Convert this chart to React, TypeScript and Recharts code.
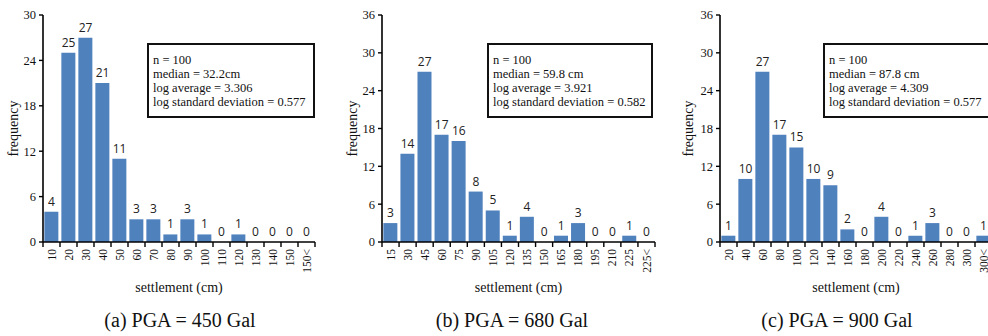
import React from "react";
import { Bar, ComposedChart, LabelList, Line, XAxis, YAxis } from "recharts";

const BAR_COLOR = "#4f81bd";
const SERIF = "'Liberation Serif', 'Times New Roman', serif";
const SANS = "'Open Sans', 'Liberation Sans', sans-serif";

// (a) PGA = 450 Gal
const binsA = ["10", "20", "30", "40", "50", "60", "70", "80", "90", "100", "110", "120", "130", "140", "150", "150<"];
const countsA = [4, 25, 27, 21, 11, 3, 3, 1, 3, 1, 0, 1, 0, 0, 0, 0];
const statsA = ["n = 100", "median = 32.2cm", "log average = 3.306", "log standard deviation = 0.577"];

// (b) PGA = 680 Gal
const binsB = ["15", "30", "45", "60", "75", "90", "105", "120", "135", "150", "165", "180", "195", "210", "225", "225<"];
const countsB = [3, 14, 27, 17, 16, 8, 5, 1, 4, 0, 1, 3, 0, 0, 1, 0];
const statsB = ["n = 100", "median = 59.8 cm", "log average = 3.921", "log standard deviation = 0.582"];

// (c) PGA = 900 Gal
const binsC = ["20", "40", "60", "80", "100", "120", "140", "160", "180", "200", "220", "240", "260", "280", "300", "300<"];
const countsC = [1, 10, 27, 17, 15, 10, 9, 2, 0, 4, 0, 1, 3, 0, 0, 1];
const statsC = ["n = 100", "median = 87.8 cm", "log average = 4.309", "log standard deviation = 0.577"];

const ticks30 = [0, 6, 12, 18, 24, 30];
const ticks36 = [0, 6, 12, 18, 24, 30, 36];

const CHART_H = 336;
const TOP = 15;
const PLOT_H = 227;
const X_AXIS_H = 79;

type PanelProps = {
  bins: string[];
  counts: number[];
  stats: string[];
  caption: string;
  yTicks: number[];
  left: number;
  width: number;
  yAxisWidth: number;
  rightMargin: number;
  yLabelX: number;
  box: { left: number; width: number };
  captionCenter: number;
};

const serifText = { fontFamily: SERIF, fill: "#111" };

// category ticks sit between the bins, label stays centred on the bar
const BinTick = (props: any) => {
  const { x, y, payload, half, last } = props;
  return (
    <g>
      <line x1={x - half} x2={x - half} y1={y} y2={y + 5} stroke="#000" strokeWidth={1.4} />
      {last && <line x1={x + half} x2={x + half} y1={y} y2={y + 5} stroke="#000" strokeWidth={1.4} />}
      <text
        transform={`translate(${x},${y + 7}) rotate(-90)`}
        textAnchor="end"
        dy="0.35em"
        style={{ ...serifText, fontSize: 11.5 }}
      >
        {payload.value}
      </text>
    </g>
  );
};

const CountTick = (props: any) => {
  const { x, y, payload } = props;
  return (
    <text x={x} y={y} dy="0.35em" textAnchor="end" style={{ ...serifText, fontSize: 12.5 }}>
      {payload.value}
    </text>
  );
};

const Panel = (p: PanelProps) => {
  const data = p.bins.map((bin, i) => ({ bin, count: p.counts[i] }));
  const plotLeft = p.yAxisWidth;
  const plotWidth = p.width - p.yAxisWidth - p.rightMargin;
  const half = plotWidth / p.bins.length / 2;
  const yMax = p.yTicks[p.yTicks.length - 1];

  return (
    <div style={{ position: "absolute", left: p.left, top: 0, width: p.width, height: CHART_H }}>
      <ComposedChart
        width={p.width}
        height={CHART_H}
        data={data}
        margin={{ top: TOP, right: p.rightMargin, bottom: CHART_H - TOP - PLOT_H - X_AXIS_H, left: 0 }}
        barCategoryGap="8%"
      >
        <XAxis
          dataKey="bin"
          interval={0}
          height={X_AXIS_H}
          tickLine={false}
          tickSize={0}
          tickMargin={0}
          axisLine={{ stroke: "#000", strokeWidth: 1.6 }}
          tick={(t: any) => <BinTick {...t} half={half} last={t.index === p.bins.length - 1} />}
          label={{
            content: () => (
              <text
                x={plotLeft + plotWidth / 2}
                y={292}
                textAnchor="middle"
                style={{ ...serifText, fontSize: 14 }}
              >
                settlement (cm)
              </text>
            ),
          }}
        />
        <YAxis
          width={p.yAxisWidth}
          domain={[0, yMax]}
          ticks={p.yTicks}
          interval={0}
          tickSize={4}
          tickMargin={3}
          tickLine={{ stroke: "#000", strokeWidth: 1.4 }}
          axisLine={{ stroke: "#000", strokeWidth: 1.6 }}
          tick={<CountTick />}
          label={{
            content: () => (
              <text
                transform={`translate(${p.yLabelX},${TOP + PLOT_H / 2}) rotate(-90)`}
                textAnchor="middle"
                dy="0.35em"
                style={{ ...serifText, fontSize: 14 }}
              >
                frequency
              </text>
            ),
          }}
        />
        <Bar dataKey="count" fill={BAR_COLOR} isAnimationActive={false} />
        {/* invisible line just to carry the count labels, zero bins included */}
        <Line
          dataKey="count"
          stroke="none"
          dot={false}
          activeDot={false}
          legendType="none"
          isAnimationActive={false}
        >
          <LabelList
            dataKey="count"
            position="top"
            offset={6}
            fill="#222"
            style={{ fontFamily: SANS, fontSize: 12, fill: "#222" }}
          />
        </Line>
      </ComposedChart>

      <div
        style={{
          position: "absolute",
          left: p.box.left,
          top: 43,
          width: p.box.width,
          height: 75,
          boxSizing: "border-box",
          border: "2px solid #111",
          background: "#fff",
          padding: "8px 0 0 4px",
          fontFamily: SERIF,
          fontSize: 12.5,
          lineHeight: "14px",
          color: "#111",
          whiteSpace: "nowrap",
        }}
      >
        {p.stats.map((s) => (
          <div key={s}>{s}</div>
        ))}
      </div>

      <div
        style={{
          position: "absolute",
          left: p.captionCenter - 120,
          width: 240,
          top: 310,
          textAlign: "center",
          fontFamily: SERIF,
          fontSize: 20,
          lineHeight: "20px",
          color: "#111",
          whiteSpace: "nowrap",
        }}
      >
        {p.caption}
      </div>
    </div>
  );
};

export default function App() {
  return (
    <div
      style={{
        position: "absolute",
        left: 0,
        top: 0,
        width: 988,
        height: 336,
        overflow: "hidden",
        background: "#fff",
      }}
    >
      <Panel
        bins={binsA}
        counts={countsA}
        stats={statsA}
        caption="(a) PGA = 450 Gal"
        yTicks={ticks30}
        left={0}
        width={330}
        yAxisWidth={43}
        rightMargin={15}
        yLabelX={13}
        box={{ left: 147, width: 168 }}
        captionCenter={180}
      />
      <Panel
        bins={binsB}
        counts={countsB}
        stats={statsB}
        caption="(b) PGA = 680 Gal"
        yTicks={ticks36}
        left={330}
        width={330}
        yAxisWidth={52}
        rightMargin={5}
        yLabelX={22}
        box={{ left: 157, width: 166 }}
        captionCenter={182}
      />
      <Panel
        bins={binsC}
        counts={countsC}
        stats={statsC}
        caption="(c) PGA = 900 Gal"
        yTicks={ticks36}
        left={658}
        width={340}
        yAxisWidth={62}
        rightMargin={6}
        yLabelX={30}
        box={{ left: 165, width: 170 }}
        captionCenter={179}
      />
    </div>
  );
}
